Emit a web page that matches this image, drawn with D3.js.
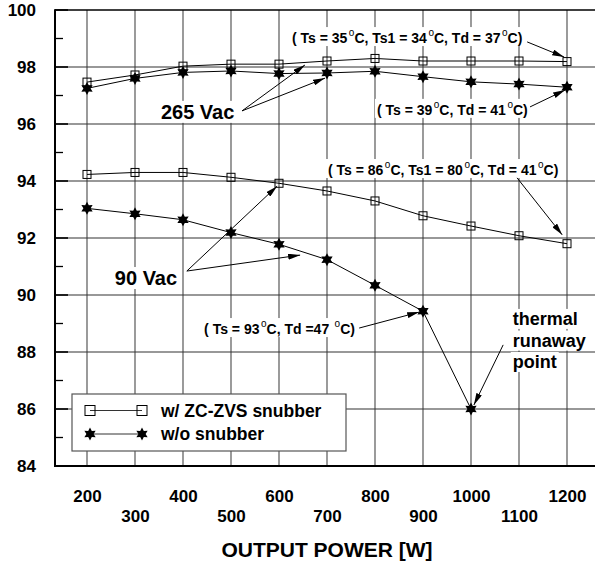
<!DOCTYPE html>
<html>
<head>
<meta charset="utf-8">
<script src="https://cdn.jsdelivr.net/npm/d3@7"></script>
<style>
  html, body { margin: 0; padding: 0; background: #fff; }
  svg { display: block; }
  text { font-family: "Liberation Sans", Arial, Helvetica, sans-serif; font-weight: bold; fill: #000; }
</style>
</head>
<body>
<svg id="chart" width="595" height="566"></svg>
<script>
// ---------------- data ----------------
const power = [200, 300, 400, 500, 600, 700, 800, 900, 1000, 1100, 1200];
const powerNoSnub90 = [200, 300, 400, 500, 600, 700, 800, 900, 1000];
const eff265Snub   = [97.47, 97.72, 98.03, 98.10, 98.10, 98.21, 98.30, 98.21, 98.21, 98.21, 98.19];
const eff265NoSnub = [97.25, 97.60, 97.81, 97.86, 97.77, 97.79, 97.85, 97.66, 97.48, 97.40, 97.29];
const eff90Snub    = [94.23, 94.30, 94.30, 94.13, 93.92, 93.65, 93.30, 92.78, 92.42, 92.08, 91.80];
const eff90NoSnub  = [93.04, 92.85, 92.64, 92.19, 91.78, 91.24, 90.34, 89.43, 86.00];

const xTicksRow1 = [200, 400, 600, 800, 1000, 1200];
const xTicksRow2 = [300, 500, 700, 900, 1100];
const yMajorTicks = [84, 86, 88, 90, 92, 94, 96, 98, 100];
const yMinorTicks = [85, 87, 89, 91, 93, 95, 97, 99];
const xTitle = "OUTPUT POWER [W]";
const legendLabels = ["w/ ZC-ZVS snubber", "w/o snubber"];

// annotations (data units): text segments, "°" rendered as superscript o
const notes = [
  { parts: ["( Ts = 35", "°", "C, Ts1 = 34", "°", "C, Td = 37", "°", "C)"], x: 627, y: 98.84, size: 14 },
  { parts: ["( Ts = 39", "°", "C, Td = 41", "°", "C)"], x: 804, y: 96.32, size: 14 },
  { parts: ["( Ts = 86", "°", "C, Ts1 = 80", "°", "C, Td = 41", "°", "C)"], x: 702, y: 94.21, size: 14 },
  { parts: ["( Ts = 93", "°", "C, Td =47 ", "°", "C)"], x: 444, y: 88.63, size: 14 },
  { parts: ["265 Vac"], x: 354, y: 96.18, size: 20 },
  { parts: ["90 Vac"], x: 258, y: 90.35, size: 20 },
  { parts: ["thermal"], x: 1087, y: 88.95, size: 18 },
  { parts: ["runaway"], x: 1087, y: 88.19, size: 18 },
  { parts: ["point"], x: 1087, y: 87.44, size: 18 }
];
const arrows = [
  { x1: 1117, y1: 98.88, x2: 1194, y2: 98.35 },
  { x1: 1123, y1: 96.60, x2: 1196, y2: 97.19 },
  { x1: 523, y1: 96.46, x2: 654, y2: 98.07 },
  { x1: 523, y1: 96.46, x2: 696, y2: 97.61 },
  { x1: 1096, y1: 94.11, x2: 1190, y2: 92.11 },
  { x1: 408, y1: 90.84, x2: 596, y2: 93.82 },
  { x1: 408, y1: 90.84, x2: 644, y2: 91.40 },
  { x1: 767, y1: 88.84, x2: 892, y2: 89.40 },
  { x1: 1067, y1: 88.25, x2: 1006, y2: 86.14 }
];

// ---------------- layout ----------------
const svg = d3.select("#chart");
const x = d3.scaleLinear().domain([200, 1200]).range([87, 567]);
const y = d3.scaleLinear().domain([84, 100]).range([466, 10]);
const pL = 55, pR = 600, pT = y(100), pB = y(84);

const g = svg.append("g");

// vertical grid
g.selectAll(".vgrid").data(power).join("line")
  .attr("x1", d => x(d)).attr("x2", d => x(d))
  .attr("y1", pT).attr("y2", pB)
  .attr("stroke", "#707070").attr("stroke-width", 1.4);

// horizontal grid
g.selectAll(".hgrid").data(yMajorTicks.slice(1, -1)).join("line")
  .attr("x1", pL).attr("x2", pR)
  .attr("y1", d => y(d)).attr("y2", d => y(d))
  .attr("stroke", "#333").attr("stroke-width", 1.2);

// ticks on left
g.selectAll(".majt").data(yMajorTicks).join("line")
  .attr("x1", pL).attr("x2", pL + 13)
  .attr("y1", d => y(d)).attr("y2", d => y(d))
  .attr("stroke", "#000").attr("stroke-width", 1.6);
g.selectAll(".mint").data(yMinorTicks).join("line")
  .attr("x1", pL).attr("x2", pL + 8)
  .attr("y1", d => y(d)).attr("y2", d => y(d))
  .attr("stroke", "#000").attr("stroke-width", 1.3);

// frame
g.append("line").attr("x1", pL).attr("x2", pR).attr("y1", pT).attr("y2", pT).attr("stroke", "#000").attr("stroke-width", 1.5);
g.append("line").attr("x1", pL).attr("x2", pR).attr("y1", pB).attr("y2", pB).attr("stroke", "#000").attr("stroke-width", 2);
g.append("line").attr("x1", pL).attr("x2", pL).attr("y1", pT - 0.75).attr("y2", pB + 1).attr("stroke", "#000").attr("stroke-width", 2);

// axes labels
const yAxis = d3.axisLeft(y).tickValues(yMajorTicks).tickSize(0).tickPadding(19).tickFormat(d3.format("d"));
const ya = svg.append("g").attr("transform", `translate(${pL},0)`).call(yAxis);
ya.select(".domain").remove();

const xa1 = svg.append("g").attr("transform", `translate(0,${pB})`)
  .call(d3.axisBottom(x).tickValues(xTicksRow1).tickSize(0).tickPadding(24).tickFormat(d3.format("d")));
const xa2 = svg.append("g").attr("transform", `translate(0,${pB})`)
  .call(d3.axisBottom(x).tickValues(xTicksRow2).tickSize(0).tickPadding(44).tickFormat(d3.format("d")));
[ya, xa1, xa2].forEach(a => {
  a.select(".domain").remove();
  a.attr("font-family", null).attr("font-size", null);
  a.selectAll("text").style("font-size", "17px").attr("fill", "#000");
});

svg.append("text").attr("x", 327).attr("y", 557).attr("text-anchor", "middle")
  .style("font-size", "21px").text(xTitle);

// ---------------- series ----------------
const line = d3.line().x(d => x(d[0])).y(d => y(d[1]));
function starPath(r1, r2) {
  const pts = [];
  for (let i = 0; i < 12; i++) {
    const a = -Math.PI / 2 + i * Math.PI / 6;
    const r = i % 2 === 0 ? r1 : r2;
    pts.push([r * Math.cos(a), r * Math.sin(a)]);
  }
  return "M" + pts.map(p => p[0].toFixed(2) + "," + p[1].toFixed(2)).join("L") + "Z";
}
const starD = starPath(6.5, 3.6);

const seriesSq = [d3.zip(power, eff265Snub), d3.zip(power, eff90Snub)];
const seriesSt = [d3.zip(power, eff265NoSnub), d3.zip(powerNoSnub90, eff90NoSnub)];

[...seriesSq, ...seriesSt].forEach(s => {
  g.append("path").datum(s).attr("d", line).attr("fill", "none").attr("stroke", "#000").attr("stroke-width", 1);
});
seriesSq.forEach(s => {
  g.selectAll(null).data(s).join("rect")
    .attr("x", d => x(d[0]) - 4).attr("y", d => y(d[1]) - 4)
    .attr("width", 8).attr("height", 8)
    .attr("fill", "none").attr("stroke", "#000").attr("stroke-width", 1);
});
seriesSt.forEach(s => {
  g.selectAll(null).data(s).join("path")
    .attr("d", starD)
    .attr("transform", d => `translate(${x(d[0])},${y(d[1])})`)
    .attr("fill", "#000");
});

// ---------------- annotations ----------------
const defs = svg.append("defs");
defs.append("marker").attr("id", "ah").attr("viewBox", "0 0 12 6")
  .attr("refX", 12).attr("refY", 3).attr("markerWidth", 12).attr("markerHeight", 6)
  .attr("markerUnits", "userSpaceOnUse").attr("orient", "auto")
  .append("path").attr("d", "M0,0L12,3L0,6Z").attr("fill", "#000");

const annG = svg.append("g");
const bgG = annG.append("g");
const txtG = annG.append("g");
notes.forEach(n => {
  const t = txtG.append("text").attr("x", x(n.x)).attr("y", y(n.y)).style("font-size", n.size + "px");
  let raised = false;
  n.parts.forEach(p => {
    if (p === "°") {
      t.append("tspan").attr("dy", -7).attr("dx", 1.5).style("font-size", "10px").style("font-weight", "normal").text("o");
      raised = true;
    } else {
      const ts = t.append("tspan").text(p);
      if (raised) { ts.attr("dy", 7); raised = false; }
    }
  });
  const bb = t.node().getBBox();
  bgG.append("rect").attr("x", bb.x - 2).attr("y", bb.y).attr("width", bb.width + 4).attr("height", bb.height)
    .attr("fill", "#fff");
});

annG.selectAll(".arr").data(arrows).join("line")
  .attr("x1", d => x(d.x1)).attr("y1", d => y(d.y1))
  .attr("x2", d => x(d.x2)).attr("y2", d => y(d.y2))
  .attr("stroke", "#000").attr("stroke-width", 1)
  .attr("marker-end", "url(#ah)");

// ---------------- legend ----------------
const lg = svg.append("g");
lg.append("rect").attr("x", 72).attr("y", 394).attr("width", 274).attr("height", 57)
  .attr("fill", "#fff").attr("stroke", "#555").attr("stroke-width", 1.2);
const rows = [410.5, 434];
rows.forEach((ry, i) => {
  lg.append("line").attr("x1", 90).attr("x2", 142).attr("y1", ry).attr("y2", ry).attr("stroke", "#333").attr("stroke-width", 1);
  [90, 142].forEach(mx => {
    if (i === 0) {
      lg.append("rect").attr("x", mx - 5).attr("y", ry - 5).attr("width", 10).attr("height", 10)
        .attr("fill", "none").attr("stroke", "#000").attr("stroke-width", 1);
    } else {
      lg.append("path").attr("d", starD).attr("transform", `translate(${mx},${ry})`).attr("fill", "#000");
    }
  });
  lg.append("text").attr("x", 161).attr("y", ry + 6).style("font-size", "17.5px").text(legendLabels[i]);
});
</script>
</body>
</html>
